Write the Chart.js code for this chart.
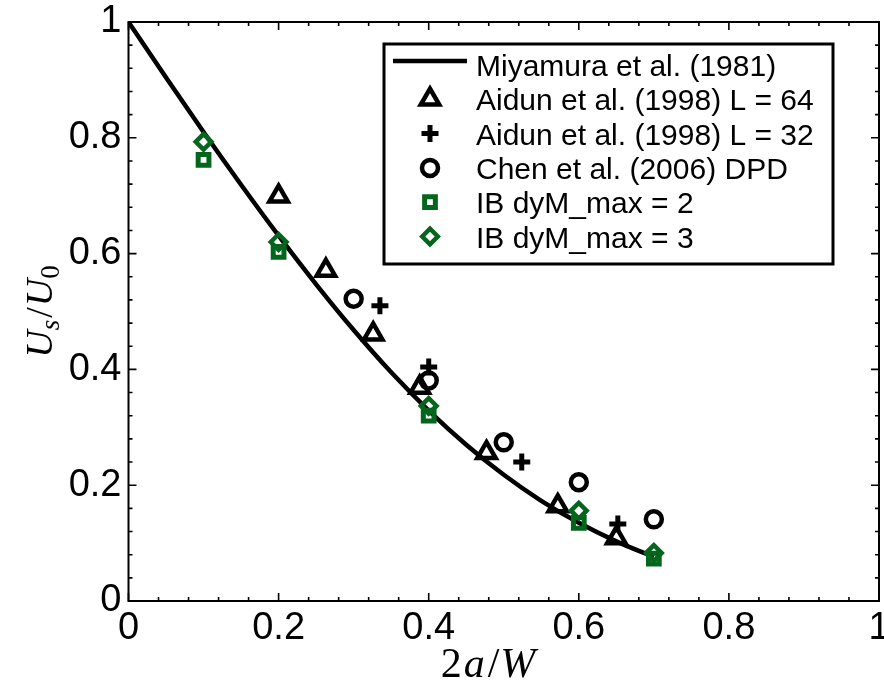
<!DOCTYPE html>
<html>
<head>
<meta charset="utf-8">
<script src="https://cdn.jsdelivr.net/npm/chart.js@4.4.1/dist/chart.umd.min.js"></script>
<style>
  html, body { margin: 0; padding: 0; background: #fff; }
</style>
</head>
<body>
<canvas id="chart" width="884" height="691"></canvas>
<script>
// ---- data ----
const seriesNames = [
    'Miyamura et al. (1981)',
    'Aidun et al. (1998) L = 64',
    'Aidun et al. (1998) L = 32',
    'Chen et al. (2006) DPD',
    'IB dyM_max = 2',
    'IB dyM_max = 3'
];

// Miyamura et al. (1981) curve
const curveX = [0, 0.05, 0.1, 0.15, 0.2, 0.25, 0.3, 0.35, 0.4, 0.45, 0.5, 0.55, 0.6, 0.65, 0.7];
const curveY = [1, 0.904, 0.81, 0.719, 0.631, 0.547, 0.468, 0.395, 0.329, 0.27, 0.218, 0.173, 0.135, 0.103, 0.076];

// Aidun et al. (1998) L = 64
const aidun64X = [0.2, 0.263, 0.326, 0.388, 0.477, 0.572, 0.65];
const aidun64Y = [0.699, 0.571, 0.461, 0.369, 0.256, 0.164, 0.109];

// Aidun et al. (1998) L = 32
const aidun32X = [0.335, 0.4, 0.524, 0.652];
const aidun32Y = [0.51, 0.404, 0.24, 0.133];

// Chen et al. (2006) DPD
const chenX = [0.3, 0.4, 0.5, 0.6, 0.7];
const chenY = [0.522, 0.381, 0.274, 0.205, 0.141];

// IB runs
const ibX = [0.1, 0.2, 0.4, 0.6, 0.7];
const ib2Y = [0.762, 0.603, 0.32, 0.135, 0.073];
const ib3Y = [0.793, 0.62, 0.337, 0.156, 0.083];

// axis ticks
const tickValues = [0, 0.2, 0.4, 0.6, 0.8, 1];
const minorStep = 0.04;

const GREEN = 'rgb(4,102,28)';
const NONE = 'rgba(0,0,0,0)';

// plot box in canvas pixels
const AREA = { left: 128.5, right: 879, top: 22, bottom: 601 };

function pts(xs, ys) {
    return xs.map((x, i) => ({ x: x, y: ys[i] }));
}

function markerSet(label, xs, ys, style, radius, width, color, order) {
    return {
        label: label,
        data: pts(xs, ys),
        showLine: false,
        pointStyle: style,
        pointRadius: radius,
        pointHoverRadius: radius,
        pointBorderWidth: width,
        borderWidth: width,
        borderColor: color,
        pointBorderColor: color,
        pointBackgroundColor: NONE,
        backgroundColor: NONE,
        order: order
    };
}

// pin the scales to the exact plot box
const pinScales = {
    id: 'pinScales',
    afterLayout(chart) {
        const xs = chart.scales.x, ys = chart.scales.y;
        xs.left = AREA.left; xs.right = AREA.right; xs.width = AREA.right - AREA.left;
        xs.configure();
        ys.top = AREA.top; ys.bottom = AREA.bottom; ys.height = AREA.bottom - AREA.top;
        ys.configure();
        xs._labelItems = null; ys._labelItems = null;
    }
};

// draw the axes box with inward ticks on all four sides
const frame = {
    id: 'frame',
    afterDatasetsDraw(chart) {
        const ctx = chart.ctx;
        const xs = chart.scales.x, ys = chart.scales.y;
        const L = xs.getPixelForValue(0), R = xs.getPixelForValue(1);
        const B = ys.getPixelForValue(0), T = ys.getPixelForValue(1);
        ctx.save();
        ctx.strokeStyle = '#000';
        ctx.lineWidth = 2;
        ctx.strokeRect(L, T, R - L, B - T);
        ctx.lineWidth = 1.6;
        const n = Math.round(1 / minorStep);
        ctx.beginPath();
        for (let i = 0; i <= n; i++) {
            const v = i * minorStep;
            const len = (i % 5 === 0) ? 8 : 4;
            const px = xs.getPixelForValue(v);
            const py = ys.getPixelForValue(v);
            ctx.moveTo(px, B); ctx.lineTo(px, B - len);
            ctx.moveTo(px, T); ctx.lineTo(px, T + len);
            ctx.moveTo(L, py); ctx.lineTo(L + len, py);
            ctx.moveTo(R, py); ctx.lineTo(R - len, py);
        }
        ctx.stroke();
        ctx.restore();
    }
};

function drawRuns(ctx, runs, cx, y) {
    let total = 0;
    runs.forEach(r => { ctx.font = r.font; r.w = ctx.measureText(r.text).width; total += r.w + (r.gap || 0); });
    let x = cx - total / 2;
    runs.forEach(r => {
        ctx.font = r.font;
        ctx.fillText(r.text, x, y + (r.dy || 0));
        x += r.w + (r.gap || 0);
    });
}

const SERIF = '"Liberation Serif", "DejaVu Serif", serif';

// axis titles (math style)
const titles = {
    id: 'titles',
    afterDraw(chart) {
        const ctx = chart.ctx;
        ctx.save();
        ctx.fillStyle = '#000';
        ctx.textBaseline = 'alphabetic';
        ctx.textAlign = 'left';
        drawRuns(ctx, [
            { text: '2', font: '42px ' + SERIF, gap: 2 },
            { text: 'a', font: 'italic 42px ' + SERIF, gap: 3 },
            { text: '/', font: '42px ' + SERIF, gap: 1 },
            { text: 'W', font: 'italic 42px ' + SERIF }
        ], 488, 677);

        ctx.translate(52, (AREA.top + AREA.bottom) / 2);
        ctx.rotate(-Math.PI / 2);
        drawRuns(ctx, [
            { text: 'U', font: 'italic 38px ' + SERIF },
            { text: 's', font: 'italic 27px ' + SERIF, dy: 7, gap: 2 },
            { text: '/', font: '38px ' + SERIF, gap: 1 },
            { text: 'U', font: 'italic 38px ' + SERIF },
            { text: '0', font: '27px ' + SERIF, dy: 7 }
        ], 0, 0);
        ctx.restore();
    }
};

function drawMarker(ctx, ds, x, y) {
    ctx.strokeStyle = ds.borderColor;
    ctx.fillStyle = NONE;
    ctx.lineWidth = ds.borderWidth;
    const opts = { pointStyle: ds.pointStyle, radius: ds.pointRadius, borderWidth: ds.borderWidth, rotation: 0 };
    if (Chart.helpers && Chart.helpers.drawPoint) {
        Chart.helpers.drawPoint(ctx, opts, x, y);
        return;
    }
    const r = ds.pointRadius;
    ctx.beginPath();
    if (ds.pointStyle === 'circle') ctx.arc(x, y, r, 0, Math.PI * 2);
    else if (ds.pointStyle === 'cross') { ctx.moveTo(x - r, y); ctx.lineTo(x + r, y); ctx.moveTo(x, y - r); ctx.lineTo(x, y + r); }
    else if (ds.pointStyle === 'rect') { const s = r * Math.SQRT1_2; ctx.rect(x - s, y - s, 2 * s, 2 * s); }
    else if (ds.pointStyle === 'rectRot') { ctx.moveTo(x, y - r); ctx.lineTo(x + r, y); ctx.lineTo(x, y + r); ctx.lineTo(x - r, y); ctx.closePath(); }
    else { ctx.moveTo(x, y - r); ctx.lineTo(x + r * 0.866, y + r / 2); ctx.lineTo(x - r * 0.866, y + r / 2); ctx.closePath(); }
    ctx.stroke();
}

// boxed legend in the upper right, MATLAB style
const legendBox = {
    id: 'legendBox',
    afterDraw(chart) {
        const ctx = chart.ctx;
        ctx.save();
        ctx.fillStyle = '#fff';
        ctx.fillRect(384, 44, 449, 220);
        ctx.lineWidth = 3;
        ctx.strokeStyle = '#000';
        ctx.strokeRect(384, 44, 449, 220);
        ctx.textAlign = 'left';
        ctx.textBaseline = 'alphabetic';
        chart.data.datasets.forEach((ds, i) => {
            const base = 76 + i * 34.3;
            if (ds.showLine) {
                ctx.strokeStyle = ds.borderColor;
                ctx.lineWidth = ds.borderWidth;
                ctx.beginPath();
                ctx.moveTo(393, base - 15);
                ctx.lineTo(467, base - 15);
                ctx.stroke();
            } else {
                drawMarker(ctx, ds, 430, base - 11);
            }
            ctx.fillStyle = '#000';
            ctx.font = '30px "Liberation Sans", Arial, sans-serif';
            ctx.fillText(ds.label, 476, base);
        });
        ctx.restore();
    }
};

const tickFont = { family: '"Liberation Sans", Arial, sans-serif', size: 38 };

new Chart(document.getElementById('chart').getContext('2d'), {
    type: 'scatter',
    data: {
        datasets: [
            {
                label: seriesNames[0],
                data: pts(curveX, curveY),
                showLine: true,
                borderColor: '#000',
                borderWidth: 4.5,
                pointRadius: 0,
                pointHoverRadius: 0,
                cubicInterpolationMode: 'monotone',
                fill: false,
                order: 5
            },
            markerSet(seriesNames[1], aidun64X, aidun64Y, 'triangle', 10.6, 4.5, '#000', 4),
            markerSet(seriesNames[2], aidun32X, aidun32Y, 'cross', 8.5, 5, '#000', 3),
            markerSet(seriesNames[3], chenX, chenY, 'circle', 8, 4.5, '#000', 2),
            markerSet(seriesNames[4], ibX, ib2Y, 'rect', 7.6, 5, GREEN, 1),
            markerSet(seriesNames[5], ibX, ib3Y, 'rectRot', 7.8, 4.5, GREEN, 0)
        ]
    },
    options: {
        responsive: false,
        animation: false,
        layout: { padding: { left: 0, right: 5, top: 22, bottom: 0 } },
        plugins: { legend: { display: false }, tooltip: { enabled: false } },
        scales: {
            x: {
                type: 'linear', min: 0, max: 1,
                grid: { display: false, drawTicks: false },
                border: { display: false },
                afterBuildTicks: s => { s.ticks = tickValues.map(v => ({ value: v })); },
                ticks: {
                    font: tickFont, color: '#000', padding: 5, maxRotation: 0, autoSkip: false,
                    callback: v => String(Math.round(v * 10) / 10)
                },
                afterFit: s => { s.height = 90; s.paddingLeft = 0; s.paddingRight = 0; }
            },
            y: {
                type: 'linear', min: 0, max: 1,
                grid: { display: false, drawTicks: false },
                border: { display: false },
                afterBuildTicks: s => { s.ticks = tickValues.map(v => ({ value: v })); },
                ticks: {
                    font: tickFont, color: '#000', padding: 7, autoSkip: false,
                    callback: v => String(Math.round(v * 10) / 10)
                },
                afterFit: s => { s.width = 128.5; s.paddingTop = 0; s.paddingBottom = 0; }
            }
        }
    },
    plugins: [pinScales, frame, titles, legendBox]
});
</script>
</body>
</html>
